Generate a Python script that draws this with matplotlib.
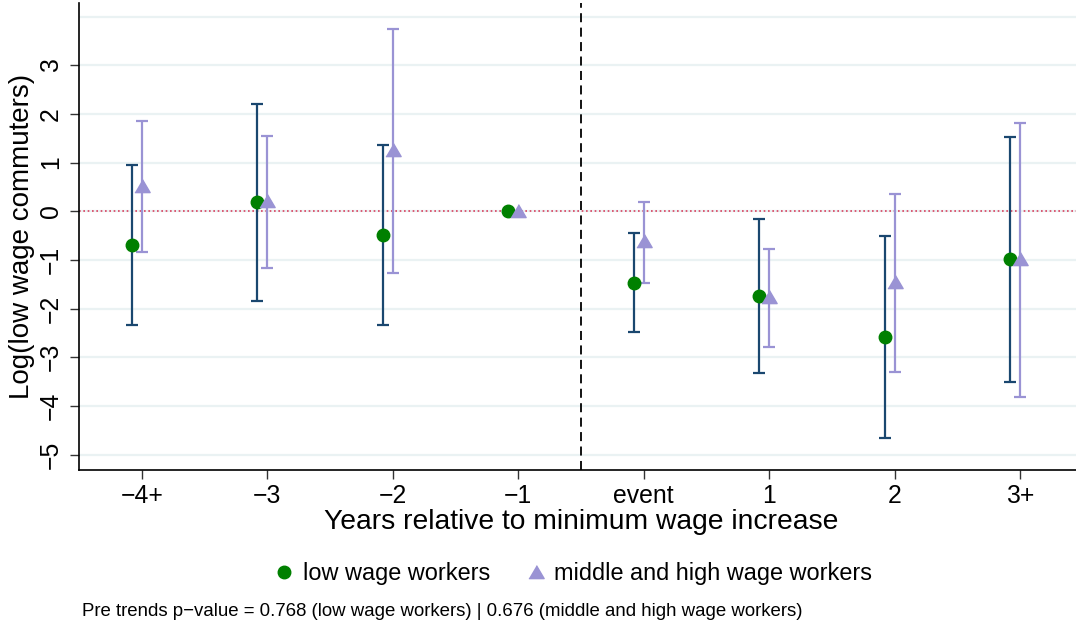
#!/usr/bin/env python
# -*- coding: utf-8 -*-

"""Event study plot: log(low wage commuters) around minimum wage increases."""

import numpy as np
import matplotlib
matplotlib.use("Agg")
import matplotlib.pyplot as plt
from matplotlib.lines import Line2D

plt.rcParams["font.family"] = ["Liberation Sans", "DejaVu Sans"]

nan = float("nan")

periods = ["\u22124+", "\u22123", "\u22122", "\u22121", "event", "1", "2", "3+"]

# low wage workers
low_coef = [-0.69, 0.20, -0.49, 0.0, -1.47, -1.75, -2.59, -0.99]
low_lo = [-2.33, -1.84, -2.34, nan, -2.49, -3.33, -4.66, -3.51]
low_hi = [0.94, 2.20, 1.37, nan, -0.45, -0.16, -0.51, 1.53]

# middle and high wage workers
mid_coef = [0.52, 0.21, 1.26, 0.0, -0.62, -1.77, -1.45, -0.98]
mid_lo = [-0.84, -1.16, -1.27, nan, -1.47, -2.79, -3.31, -3.81]
mid_hi = [1.85, 1.55, 3.75, nan, 0.18, -0.78, 0.36, 1.81]

note = ("Pre trends p\u2212value = 0.768 (low wage workers) | "
        "0.676 (middle and high wage workers)")

navy = "#1a476f"
green = "#008000"
lavender = "#9a93d4"
grid_col = "#eaf2f3"

fig = plt.figure(figsize=(10.76, 6.30), dpi=100)
ax = fig.add_axes([0.0734, 0.2544, 0.933, 0.741])

x = np.arange(len(periods))
x_low = x - 0.08

for g in range(-5, 5):
    ax.axhline(g, color=grid_col, lw=1.6, zorder=0)
ax.axhline(0, color="#d8405e", lw=1.2, ls=(0, (1, 1.6)), zorder=1)
ax.axvline(3.5, color="black", lw=1.3, ls=(0, (5, 3)), zorder=1)

def draw(xs, coef, lo, hi, ci_col, mk_col, marker, ms):
    coef = np.array(coef)
    lo = np.array(lo)
    hi = np.array(hi)
    ok = ~np.isnan(lo)
    ax.errorbar(xs[ok], coef[ok], yerr=[coef[ok] - lo[ok], hi[ok] - coef[ok]],
                fmt="none", ecolor=ci_col, elinewidth=1.6, capsize=4.5,
                capthick=1.6, zorder=2)
    ax.plot(xs, coef, ls="none", marker=marker, ms=ms, color=mk_col,
            mec=mk_col, zorder=3)

tri = [(-1, -0.8), (1, -0.8), (0, 0.9)]

draw(x_low, low_coef, low_lo, low_hi, navy, green, "o", 9)
draw(x, mid_coef, mid_lo, mid_hi, lavender, lavender, tri, 11)

ax.set_xlim(-0.5, 7.5)
ax.set_ylim(-5.31, 4.28)
ax.set_xticks(x)
ax.set_xticklabels(periods)
ax.set_yticks(range(-5, 4))
ax.set_yticklabels(["\u2212%d" % -v if v < 0 else str(v) for v in range(-5, 4)],
                   rotation=90, va="center")
ax.tick_params(axis="both", length=6.5, width=1, color="#333333", labelsize=17.8,
               pad=4)
ax.tick_params(axis="y", pad=5)

for s in ["top", "right"]:
    ax.spines[s].set_visible(False)
for s in ["left", "bottom"]:
    ax.spines[s].set_linewidth(1.2)

ax.set_xlabel("Years relative to minimum wage increase", fontsize=20.3)
ax.xaxis.set_label_coords(0.5, -0.112)
ax.xaxis.label.set_verticalalignment("center")
ax.set_ylabel("Log(low wage commuters)", fontsize=20)
ax.yaxis.set_label_coords(-0.0568, 0.5)
ax.yaxis.label.set_verticalalignment("center")

handles = [
    Line2D([], [], ls="none", marker="o", ms=9, color=green),
    Line2D([], [], ls="none", marker=tri, ms=11, color=lavender),
]
fig.legend(handles, ["low wage workers", "middle and high wage workers"],
           loc="center", bbox_to_anchor=(0.532, 0.089), ncol=2, frameon=False,
           fontsize=16.9, handletextpad=0.3, columnspacing=1.43, handlelength=1.0)

fig.text(0.076, 0.0286, note, fontsize=13.4, va="center", ha="left")

fig.savefig("out.png", dpi=100)
